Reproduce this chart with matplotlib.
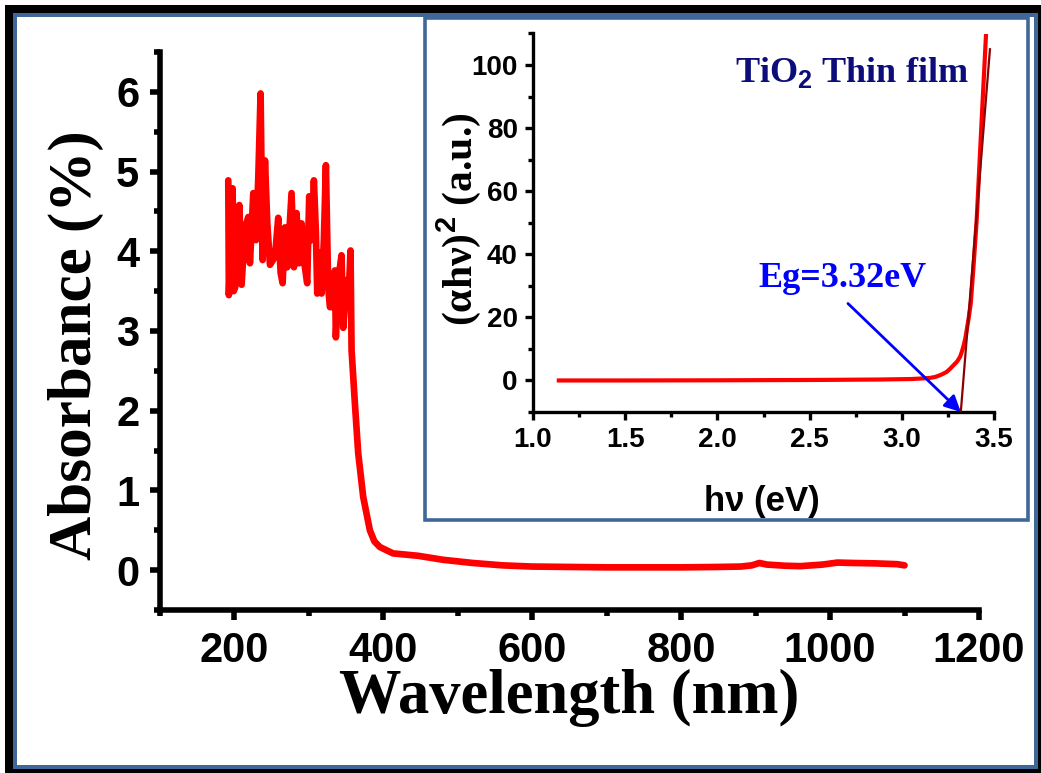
import matplotlib
matplotlib.use("Agg")
import matplotlib.pyplot as plt
from matplotlib.patches import Rectangle
from matplotlib.transforms import IdentityTransform
from matplotlib.ticker import MultipleLocator

# ---- UV-Vis absorbance spectrum of the TiO2 thin film ----
wavelength_nm = [
    191.7, 192.5, 197.5, 199.0, 201.0, 206.5, 209.6, 214.1, 218.6, 220.8,
    225.3, 228.9, 232.0, 235.1, 237.8, 241.0, 244.1, 247.7, 254.4, 258.8,
    262.0, 264.7, 267.8, 270.9, 276.7, 279.9, 283.4, 287.0, 290.1, 294.6,
    297.7, 300.4, 303.6, 306.7, 309.4, 311.2, 313.9, 317.0, 320.1, 322.8,
    325.9, 328.2, 331.8, 334.9, 336.2, 339.4, 343.8, 346.1, 350.6, 352.8,
    355.9, 357.3, 361.7, 366.2, 372.9, 381.9, 388.0, 395.3, 413.0, 446.7,
    480.0, 520.0, 560.0, 600.0, 650.0, 700.0, 750.0, 800.0, 850.0, 880.0,
    895.0, 905.0, 915.0, 940.0, 960.0, 990.0, 1010.0, 1030.0, 1060.0, 1090.0,
    1100.0,
]
absorbance = [
    4.89, 3.45, 4.79, 3.50, 3.55, 4.58, 3.58, 4.30, 4.43, 3.85,
    4.73, 4.14, 4.92, 5.98, 3.89, 5.14, 4.35, 3.83, 3.93, 4.42,
    3.73, 3.60, 4.30, 3.80, 4.73, 3.80, 4.48, 3.85, 4.35, 3.80,
    3.60, 4.69, 4.14, 4.89, 4.23, 3.47, 3.98, 3.47, 4.14, 5.08,
    3.55, 3.30, 3.30, 3.76, 2.92, 3.64, 3.95, 3.04, 3.64, 3.30,
    4.01, 2.76, 2.10, 1.47, 0.92, 0.50, 0.36, 0.29, 0.21, 0.18,
    0.13, 0.09, 0.06, 0.045, 0.04, 0.035, 0.035, 0.035, 0.04, 0.045,
    0.06, 0.09, 0.07, 0.055, 0.05, 0.07, 0.095, 0.09, 0.085, 0.075,
    0.06,
]
x_major_ticks = [200, 400, 600, 800, 1000, 1200]
y_major_ticks = [0, 1, 2, 3, 4, 5, 6]

# ---- Tauc plot (inset) ----
photon_energy_ev = [1.14, 1.5, 2.0, 2.5, 2.88, 3.05, 3.1, 3.153, 3.18, 3.2,
                    3.22, 3.243, 3.26, 3.28, 3.30, 3.316, 3.325, 3.335, 3.345,
                    3.352, 3.362, 3.374, 3.39, 3.406, 3.433, 3.457]
tauc_value = [0.0, 0.0, 0.05, 0.15, 0.3, 0.45, 0.6, 0.8, 1.1, 1.5,
              2.0, 2.7, 3.6, 4.8, 6.0, 7.5, 9.0, 11.0, 13.5,
              16.0, 19.5, 24.4, 37.0, 50.8, 82.5, 110.0]
band_gap_ev = 3.32
tangent_top = (3.478, 105.0)
inset_x_ticks = [1.0, 1.5, 2.0, 2.5, 3.0, 3.5]
inset_y_ticks = [0, 20, 40, 60, 80, 100]

W, H = 1041, 773
fig = plt.figure(figsize=(W / 100, H / 100), dpi=100)
fig.patch.set_facecolor("white")

# double frame around the whole figure (pixel coordinates, origin bottom-left)
ident = IdentityTransform()
for (x0, y0, x1, y1, col) in [(5, 0, W + 5, H - 5, "black"),
                              (13, 4, 1038, H - 13, "#3f6797"),
                              (17, 8, 1034, H - 17, "white")]:
    fig.add_artist(Rectangle((x0, y0), x1 - x0, y1 - y0, transform=ident,
                             facecolor=col, edgecolor="none", zorder=-10))

sans = "Liberation Sans"
serif = "Liberation Serif"
plt.rcParams["mathtext.fontset"] = "custom"
plt.rcParams["mathtext.rm"] = "Liberation Sans:bold"
plt.rcParams["mathtext.bf"] = "Liberation Sans:bold"
plt.rcParams["mathtext.it"] = "Liberation Sans:bold"


def fx(px):
    return px / W


def fy(py):
    return (H - py) / H


# ---------------- main axes ----------------
ax = fig.add_axes([fx(160), fy(610), fx(979) - fx(160), fy(52) - fy(610)])
ax.set_facecolor("none")
ax.plot(wavelength_nm, absorbance, color="#ff0000", lw=4.8,
        solid_joinstyle="round", solid_capstyle="round")
ax.set_xlim(100, 1200)
ax.set_ylim(-0.5, 6.5)
ax.set_xticks(x_major_ticks)
ax.set_yticks(y_major_ticks)
ax.xaxis.set_minor_locator(MultipleLocator(100))
ax.yaxis.set_minor_locator(MultipleLocator(0.5))
for s in ("top", "right"):
    ax.spines[s].set_visible(False)
for s in ("left", "bottom"):
    ax.spines[s].set_linewidth(4.0)
ax.tick_params(which="major", direction="out", length=7, width=4, pad=8)
ax.tick_params(which="minor", direction="out", length=4, width=4)
for lab in ax.get_xticklabels() + ax.get_yticklabels():
    lab.set_fontfamily(sans)
    lab.set_fontweight("bold")
    lab.set_fontsize(30)
ax.set_xlabel("Wavelength (nm)", fontfamily=serif, fontweight="bold", fontsize=45)
ax.set_ylabel("Absorbance (%)", fontfamily=serif, fontweight="bold", fontsize=44)
ax.xaxis.set_label_coords(0.5, -0.105)
ax.yaxis.set_label_coords(-0.068, 0.475)

# ---------------- inset frame ----------------
fig.add_artist(Rectangle((fx(425), fy(520)), fx(1028) - fx(425), fy(18) - fy(520),
                         transform=fig.transFigure, facecolor="white",
                         edgecolor="#3f6797", lw=2.6, zorder=1))

# ---------------- inset axes ----------------
ins = fig.add_axes([fx(533), fy(412), fx(994) - fx(533), fy(33.5) - fy(412)])
ins.set_zorder(2)
ins.set_facecolor("none")
ins.plot(photon_energy_ev, tauc_value, color="#ff0000", lw=3.0,
         solid_joinstyle="round", zorder=3)
ins.plot([band_gap_ev, tangent_top[0]], [-10, tangent_top[1]], color="#8b0000",
         lw=1.6, zorder=4)
ins.annotate("", xy=(band_gap_ev, -10), xytext=(2.708, 24.4),
             arrowprops=dict(arrowstyle="-|>", color="#0000ff", lw=2.0,
                             mutation_scale=24, shrinkA=0, shrinkB=0), zorder=5)
ins.text(2.22, 29.5, f"Eg={band_gap_ev:.2f}eV", color="#0000ff", fontfamily=serif,
         fontweight="bold", fontsize=26, ha="left", va="baseline")
ins.text(2.095, 94.6, r"TiO$_\mathbf{2}$ Thin film", color="#0c0c7a", fontfamily=serif,
         fontweight="bold", fontsize=26, ha="left", va="baseline")
ins.set_xlim(1.0, 3.5)
ins.set_ylim(-10, 110)
ins.set_xticks(inset_x_ticks)
ins.set_yticks(inset_y_ticks)
ins.xaxis.set_minor_locator(MultipleLocator(0.25))
ins.yaxis.set_minor_locator(MultipleLocator(10))
for s in ("top", "right"):
    ins.spines[s].set_visible(False)
for s in ("left", "bottom"):
    ins.spines[s].set_linewidth(2.4)
ins.tick_params(which="major", direction="out", length=6, width=2.4, pad=5)
ins.tick_params(which="minor", direction="out", length=3.5, width=2.4)
for lab in ins.get_xticklabels() + ins.get_yticklabels():
    lab.set_fontfamily(sans)
    lab.set_fontweight("bold")
    lab.set_fontsize(20)
ins.set_xlabel("h\u03bd (eV)", fontfamily=sans, fontweight="bold", fontsize=25)
ins.set_ylabel("(\u03b1h\u03bd)$^{2}$ (a.u.)", fontfamily=serif, fontweight="bold",
               fontsize=30)
ins.xaxis.set_label_coords(0.497, -0.194)
ins.yaxis.set_label_coords(-0.108, 0.51)

fig.savefig("out.png", dpi=100, facecolor=fig.get_facecolor())
